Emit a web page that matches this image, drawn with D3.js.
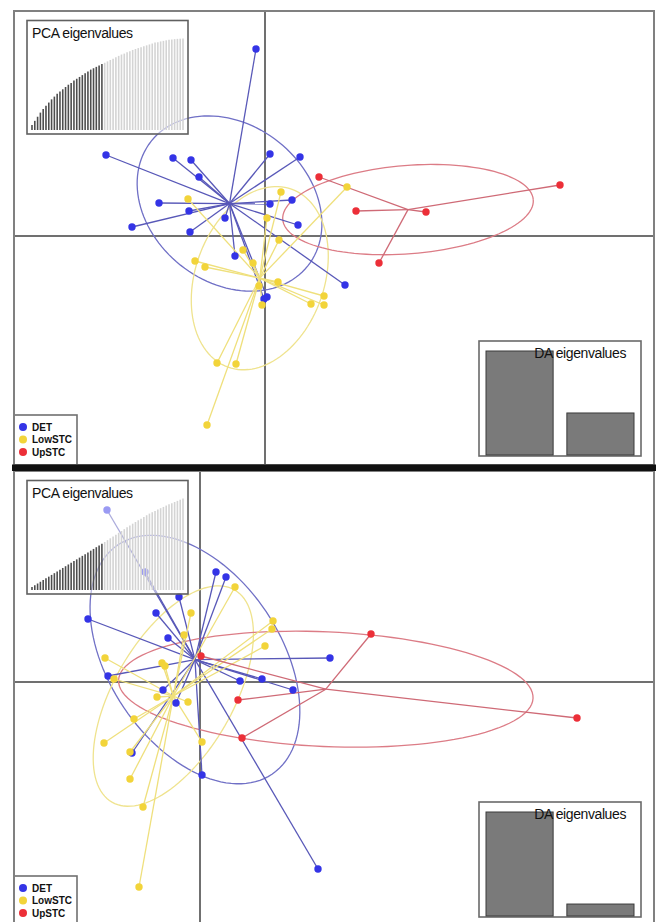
<!DOCTYPE html>
<html>
<head>
<meta charset="utf-8">
<script src="https://cdn.jsdelivr.net/npm/d3@7"></script>
<style>
  body { margin: 0; background: #fff; }
  svg { display: block; }
</style>
</head>
<body>
<svg id="chart" width="659" height="922"></svg>
<script>
// ---- Groups ----
const groups = ["DET", "LowSTC", "UpSTC"];
const pointColors = ["#3434e6", "#f2d43a", "#ec2f38"];
const starColors = ["#5858b8", "#efe07c", "#cf6a76"];
const ellipseColors = ["#7070c6", "#efe38e", "#dc7c86"];

// ---- Panel 1: discriminant scores (LD1, LD2) ----
const p1DET = [
  [-0.36, 7.48], [-6.36, 3.24], [-3.68, 3.12], [-2.96, 3.04], [-2.64, 2.36],
  [0.20, 3.28], [1.40, 3.16], [-4.24, 1.32], [-3.04, 1.00], [-1.60, 0.72],
  [0.20, 1.28], [1.08, 1.44], [1.32, 0.44], [-5.32, 0.36], [-3.00, 0.16],
  [-1.20, -0.80], [3.20, -1.96], [0.08, -2.44], [-0.04, -2.52]
];
const p1LowSTC = [
  [-3.08, 1.48], [0.64, 1.76], [0.08, 0.72], [3.28, 1.96], [0.56, -0.16],
  [-0.88, -0.56], [-2.80, -1.00], [-2.40, -1.24], [-0.48, -1.08], [-0.24, -2.00],
  [0.52, -1.84], [2.36, -2.40], [1.84, -2.72], [2.36, -2.76], [-0.12, -2.76],
  [-1.92, -5.08], [-1.16, -5.12], [-2.32, -7.56]
];
const p1UpSTC = [
  [2.16, 2.36], [3.64, 1.00], [6.44, 0.96], [11.80, 2.04], [4.56, -1.08]
];
// cumulative PCA variance (%), first 26 axes retained
const p1PcaEig = [
  5.5, 10, 14.5, 19, 23, 26.5, 30, 33.5, 36.5, 39.5, 42, 44.5, 47, 49.5, 51.5,
  54, 56, 58, 60, 62, 64, 66, 67.5, 69, 70.5, 72, 73.5, 75, 76.5, 78,
  79.5, 81, 82.5, 83.5, 85, 86, 87.5, 88.5, 89.5, 90.5, 91.5, 92.5, 93.5, 94.5, 95.5,
  96, 96.8, 97.4, 98, 98.5, 99, 99.3, 99.6, 99.8, 100
];
const p1PcaRetained = 26;
const p1DaEig = [100, 40.4];

// ---- Panel 2: discriminant scores (LD1, LD2) ----
const p2DET = [
  [-3.72, 6.88], [-2.20, 4.40], [-0.84, 3.40], [0.64, 4.40], [1.04, 4.20],
  [-4.48, 2.52], [-1.76, 2.76], [-1.28, 1.76], [-3.68, 0.24], [1.60, 0.04],
  [2.48, 0.12], [3.72, -0.32], [5.20, 0.96], [-1.48, -0.32], [-0.96, -0.84],
  [-2.72, -2.84], [0.08, -3.72], [4.72, -7.48]
];
const p2LowSTC = [
  [1.40, 3.80], [-0.36, 2.76], [2.92, 2.44], [2.88, 2.12], [-0.64, 1.88],
  [2.60, 1.44], [-3.80, 0.96], [-1.52, 0.76], [-1.40, 0.64], [-3.44, 0.12],
  [-1.72, -0.60], [-0.48, -0.80], [-2.64, -1.48], [-3.84, -2.44], [-2.80, -2.80],
  [0.08, -2.40], [-2.80, -3.88], [-2.28, -5.00], [-2.44, -8.20]
];
const p2UpSTC = [
  [0.04, 1.04], [6.84, 1.92], [1.52, -0.72], [1.68, -2.24], [15.08, -1.44]
];
const p2PcaEig = [
  3.3, 5.2, 7.1, 9, 10.9, 12.8, 14.6, 16.5, 18.4, 20.3, 22.2, 24.1, 26, 27.9, 29.8,
  31.7, 33.5, 35.4, 37.3, 39.2, 41.1, 43, 44.9, 46.8, 48.7, 50.5,
  52.5, 54.5, 56.5, 58.5, 60.5, 62.5, 64.5, 66.5, 68.5, 70.5, 72.5,
  74.3, 76.2, 78, 79.8, 81.7, 83.5, 85, 86.4, 87.9, 89.4, 90.8, 92.3,
  93.6, 94.9, 96.2, 97.4, 98.7, 100
];
const p2PcaRetained = 26;
const p2DaEig = [100, 11.5];

// ---- Layout ----
const panels = [
  {
    frame: { x0: 14, y0: 11, x1: 654, y1: 465 },
    xDomain: [-10.04, 15.56], yDomain: [9.0, -9.16],
    groups: [p1DET, p1LowSTC, p1UpSTC],
    pca: p1PcaEig, retained: p1PcaRetained, da: p1DaEig
  },
  {
    frame: { x0: 14, y0: 471, x1: 654, y1: 926 },
    xDomain: [-7.44, 18.16], yDomain: [8.44, -9.76],
    groups: [p2DET, p2LowSTC, p2UpSTC],
    pca: p2PcaEig, retained: p2PcaRetained, da: p2DaEig
  }
];

const svg = d3.select("#chart");
svg.append("rect").attr("width", 659).attr("height", 922).attr("fill", "#fff");

// covariance ellipse (ade4 style, cellipse = 1.5)
function ellipsePath(pts, sx, sy, k = 1.5) {
  const n = pts.length;
  const mx = d3.mean(pts, d => d[0]), my = d3.mean(pts, d => d[1]);
  let sxx = 0, syy = 0, sxy = 0;
  pts.forEach(([a, b]) => {
    sxx += (a - mx) ** 2; syy += (b - my) ** 2; sxy += (a - mx) * (b - my);
  });
  sxx /= n; syy /= n; sxy /= n;
  const tr = sxx + syy, det = sxx * syy - sxy * sxy;
  const disc = Math.sqrt(Math.max(0, tr * tr / 4 - det));
  const l1 = tr / 2 + disc, l2 = Math.max(0, tr / 2 - disc);
  const th = 0.5 * Math.atan2(2 * sxy, sxx - syy);
  const a = k * Math.sqrt(l1), b = k * Math.sqrt(l2);
  const ts = d3.range(0, 361, 3).map(t => t * Math.PI / 180);
  const ring = ts.map(t => {
    const ex = a * Math.cos(t), ey = b * Math.sin(t);
    return [mx + ex * Math.cos(th) - ey * Math.sin(th),
            my + ex * Math.sin(th) + ey * Math.cos(th)];
  });
  return d3.line().x(d => sx(d[0])).y(d => sy(d[1]))(ring);
}

panels.forEach((p, pi) => {
  const f = p.frame;
  const x = d3.scaleLinear().domain(p.xDomain).range([f.x0, f.x1]);
  const y = d3.scaleLinear().domain(p.yDomain).range([f.y0, f.y1]);
  const clipId = "clip" + pi;
  svg.append("clipPath").attr("id", clipId)
    .append("rect").attr("x", f.x0).attr("y", f.y0)
    .attr("width", f.x1 - f.x0).attr("height", f.y1 - f.y0);
  const g = svg.append("g").attr("clip-path", `url(#${clipId})`);

  // zero axes
  g.append("line").attr("x1", f.x0).attr("x2", f.x1)
    .attr("y1", y(0)).attr("y2", y(0))
    .attr("stroke", "#707070").attr("stroke-width", 2);
  g.append("line").attr("x1", x(0)).attr("x2", x(0))
    .attr("y1", f.y0).attr("y2", f.y1)
    .attr("stroke", "#707070").attr("stroke-width", 2);

  // ellipses and stars
  p.groups.forEach((pts, gi) => {
    g.append("path").attr("d", ellipsePath(pts, x, y))
      .attr("fill", "none").attr("stroke", ellipseColors[gi]).attr("stroke-width", 1.3);
  });
  p.groups.forEach((pts, gi) => {
    const cx = d3.mean(pts, d => d[0]), cy = d3.mean(pts, d => d[1]);
    g.append("g").selectAll("line").data(pts).join("line")
      .attr("x1", x(cx)).attr("y1", y(cy))
      .attr("x2", d => x(d[0])).attr("y2", d => y(d[1]))
      .attr("stroke", starColors[gi]).attr("stroke-width", 1.3);
  });
  p.groups.forEach((pts, gi) => {
    g.append("g").selectAll("circle").data(pts).join("circle")
      .attr("cx", d => x(d[0])).attr("cy", d => y(d[1]))
      .attr("r", 3.7).attr("fill", pointColors[gi]);
  });

  // PCA eigenvalues inset
  const pb = { x0: f.x0 + 13, y0: f.y0 + 9.5, x1: f.x0 + 174, y1: f.y0 + 123 };
  g.append("rect").attr("x", pb.x0).attr("y", pb.y0)
    .attr("width", pb.x1 - pb.x0).attr("height", pb.y1 - pb.y0)
    .attr("fill", "#fff").attr("fill-opacity", 0.5)
    .attr("stroke", "#606060").attr("stroke-width", 1.6);
  const px = d3.scaleLinear().domain([0, p.pca.length - 1]).range([pb.x0 + 5, pb.x1 - 5]);
  const py = d3.scaleLinear().domain([0, 100]).range([pb.y1 - 4, pb.y0 + 18]);
  g.append("g").selectAll("line").data(p.pca).join("line")
    .attr("x1", (d, i) => px(i)).attr("x2", (d, i) => px(i))
    .attr("y1", py(0)).attr("y2", d => py(d))
    .attr("stroke", (d, i) => i < p.retained ? "#4e4e4e" : "#d4d4d4")
    .attr("stroke-width", 1.6);
  g.append("text").attr("x", pb.x0 + 5).attr("y", pb.y0 + 17.5)
    .attr("font-family", "Liberation Sans, Arial, sans-serif")
    .attr("font-size", 14).attr("letter-spacing", -0.4).attr("fill", "#111")
    .text("PCA eigenvalues");

  // DA eigenvalues inset
  const db = { x0: f.x1 - 175, y0: f.y1 - 124, x1: f.x1 - 13, y1: f.y1 - 9 };
  g.append("rect").attr("x", db.x0).attr("y", db.y0)
    .attr("width", db.x1 - db.x0).attr("height", db.y1 - db.y0)
    .attr("fill", "#fff").attr("fill-opacity", 0.5)
    .attr("stroke", "#6a6a6a").attr("stroke-width", 1.6);
  const bx = d3.scaleBand().domain(d3.range(p.da.length))
    .range([db.x0 + 7, db.x1 - 7]).paddingInner(0.17);
  const by = d3.scaleLinear().domain([0, d3.max(p.da)]).range([db.y1 - 1, db.y0 + 10]);
  g.append("g").selectAll("rect").data(p.da).join("rect")
    .attr("x", (d, i) => bx(i)).attr("width", bx.bandwidth())
    .attr("y", d => by(d)).attr("height", d => by(0) - by(d))
    .attr("fill", "#7a7a7a").attr("stroke", "#3a3a3a").attr("stroke-width", 1);
  g.append("text").attr("x", db.x1 - 15).attr("y", db.y0 + 17)
    .attr("text-anchor", "end")
    .attr("font-family", "Liberation Sans, Arial, sans-serif")
    .attr("font-size", 14).attr("letter-spacing", -0.4).attr("fill", "#111")
    .text("DA eigenvalues");

  // legend
  const lb = { x0: f.x0, y0: f.y1 - 50, x1: f.x0 + 63, y1: f.y1 };
  g.append("rect").attr("x", lb.x0).attr("y", lb.y0)
    .attr("width", lb.x1 - lb.x0).attr("height", lb.y1 - lb.y0)
    .attr("fill", "#fff").attr("stroke", "#707070").attr("stroke-width", 1.6);
  const lg = g.append("g").selectAll("g").data(groups).join("g")
    .attr("transform", (d, i) => `translate(${lb.x0 + 9},${lb.y0 + 12 + i * 12.5})`);
  lg.append("circle").attr("r", 4).attr("fill", (d, i) => pointColors[i]);
  lg.append("text").attr("x", 9).attr("dy", "0.35em")
    .attr("font-family", "Liberation Sans, Arial, sans-serif")
    .attr("font-size", 10).attr("font-weight", "bold").attr("fill", "#111")
    .text(d => d);

  // frame
  svg.append("rect").attr("x", f.x0).attr("y", f.y0)
    .attr("width", f.x1 - f.x0).attr("height", f.y1 - f.y0)
    .attr("fill", "none").attr("stroke", "#808080").attr("stroke-width", 2);
});

// separator between the two panels
svg.append("rect").attr("x", 12).attr("y", 464.5).attr("width", 644).attr("height", 6.5)
  .attr("fill", "#111");
</script>
</body>
</html>
